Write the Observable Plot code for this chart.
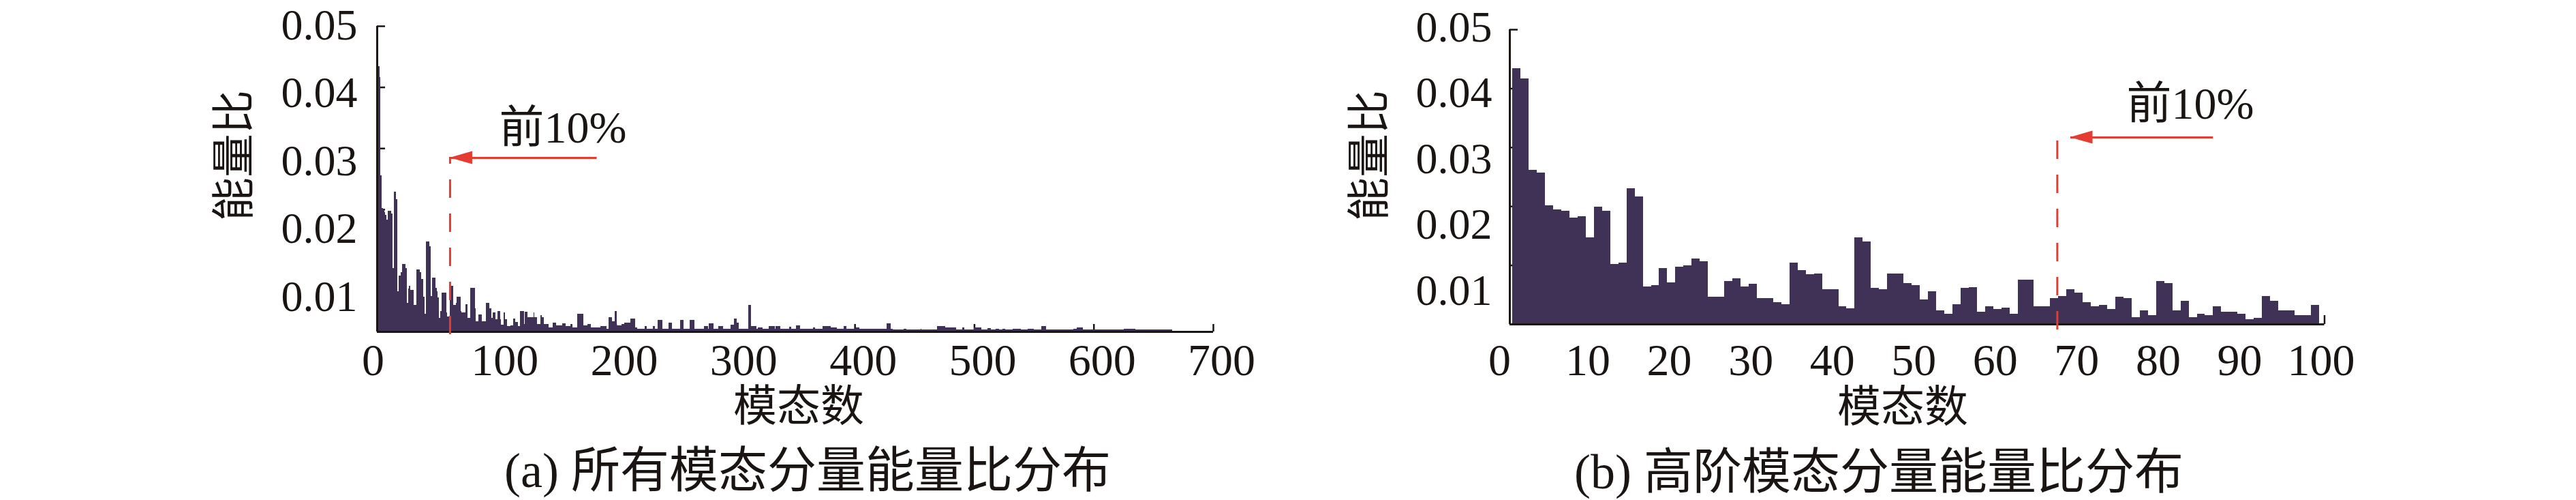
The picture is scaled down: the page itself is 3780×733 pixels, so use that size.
<!DOCTYPE html>
<html><head><meta charset="utf-8">
<script src="https://cdn.jsdelivr.net/npm/d3@7"></script>
<script src="https://cdn.jsdelivr.net/npm/@observablehq/plot@0.6"></script>
<style>
html,body{margin:0;padding:0;background:#fff;}
#root{position:relative;width:3780px;height:733px;overflow:hidden;background:#fff;}
.lbl{position:absolute;white-space:nowrap;font-family:"Liberation Serif","Noto Sans CJK SC",serif;color:#1a1512;line-height:1;transform:translate(-50%,-50%);}
</style></head><body><div id="root"></div>
<script>
// ---------------- data ----------------
// (a) energy ratio of all 666 modes
const energyA = [
.0434,.0434,.0416,.0256,.0202,.0200,.0195,.0191,.0183,.0197,
.0197,.0197,.0193,.0104,.0229,.0229,.0216,.0066,.0092,.0092,
.0097,.0110,.0110,.0110,.0104,.0047,.0070,.0075,.0068,.0068,
.0068,.0044,.0044,.0102,.0102,.0102,.0097,.0086,.0086,.0057,
.0029,.0147,.0147,.0147,.0140,.0058,.0088,.0088,.0088,.0071,
.0066,.0056,.0022,.0033,.0064,.0064,.0064,.0064,.0031,.0025,
.0025,.0075,.0075,.0075,.0044,.0044,.0047,.0057,.0057,.0057,
.0034,.0031,.0031,.0031,.0045,.0045,.0022,.0022,.0071,.0071,
.0071,.0071,.0038,.0017,.0017,.0028,.0028,.0028,.0017,.0017,
.0017,.0047,.0047,.0047,.0038,.0038,.0022,.0031,.0031,.0020,
.0020,.0034,.0034,.0020,.0011,.0011,.0031,.0020,.0020,.0009,
.0009,.0009,.0010,.0010,.0021,.0021,.0016,.0016,.0009,.0009,
.0033,.0033,.0033,.0012,.0032,.0032,.0023,.0023,.0023,.0023,
.0023,.0031,.0023,.0023,.0012,.0012,.0012,.0027,.0023,.0023,
.0012,.0012,.0012,.0012,.0007,.0007,.0007,.0014,.0014,.0014,
.0010,.0010,.0010,.0010,.0010,.0013,.0013,.0013,.0009,.0009,
.0009,.0009,.0012,.0012,.0007,.0007,.0007,.0007,.0029,.0029,
.0029,.0029,.0029,.0010,.0010,.0010,.0012,.0012,.0012,.0007,
.0007,.0007,.0007,.0007,.0007,.0007,.0007,.0009,.0009,.0009,
.0009,.0009,.0005,.0005,.0023,.0023,.0023,.0017,.0017,.0033,
.0033,.0010,.0010,.0010,.0010,.0012,.0012,.0014,.0014,.0014,
.0014,.0014,.0021,.0021,.0021,.0021,.0007,.0007,.0005,.0005,
.0005,.0005,.0005,.0005,.0009,.0009,.0004,.0004,.0004,.0004,
.0004,.0009,.0009,.0004,.0004,.0019,.0019,.0019,.0019,.0004,
.0004,.0004,.0004,.0004,.0015,.0015,.0015,.0004,.0004,.0004,
.0004,.0004,.0004,.0004,.0019,.0019,.0019,.0004,.0004,.0004,
.0004,.0004,.0019,.0019,.0019,.0019,.0004,.0004,.0004,.0004,
.0004,.0004,.0004,.0004,.0009,.0009,.0009,.0004,.0013,.0013,
.0013,.0013,.0004,.0004,.0004,.0004,.0009,.0009,.0009,.0009,
.0004,.0004,.0004,.0004,.0004,.0004,.0011,.0011,.0011,.0021,
.0021,.0015,.0015,.0004,.0004,.0004,.0004,.0004,.0004,.0004,
.0004,.0043,.0043,.0009,.0009,.0009,.0009,.0009,.0004,.0007,
.0007,.0007,.0007,.0004,.0004,.0004,.0004,.0004,.0009,.0009,
.0009,.0009,.0009,.0004,.0009,.0009,.0009,.0009,.0004,.0004,
.0004,.0004,.0004,.0004,.0004,.0008,.0008,.0004,.0004,.0004,
.0004,.0010,.0010,.0010,.0004,.0004,.0004,.0004,.0004,.0005,
.0005,.0005,.0005,.0004,.0004,.0007,.0007,.0004,.0004,.0004,
.0004,.0004,.0004,.0009,.0009,.0009,.0009,.0009,.0009,.0009,
.0007,.0007,.0007,.0007,.0007,.0004,.0004,.0004,.0004,.0004,
.0004,.0009,.0009,.0004,.0004,.0004,.0004,.0004,.0004,.0004,
.0004,.0007,.0007,.0007,.0004,.0004,.0004,.0004,.0005,.0005,
.0005,.0004,.0004,.0005,.0005,.0005,.0004,.0004,.0004,.0004,
.0004,.0004,.0005,.0005,.0005,.0005,.0004,.0013,.0013,.0013,
.0004,.0004,.0003,.0003,.0003,.0003,.0003,.0003,.0003,.0003,
.0003,.0005,.0005,.0003,.0003,.0003,.0003,.0003,.0003,.0003,
.0003,.0003,.0003,.0003,.0003,.0005,.0003,.0003,.0003,.0003,
.0003,.0003,.0003,.0003,.0003,.0003,.0003,.0003,.0003,.0009,
.0009,.0009,.0009,.0009,.0009,.0009,.0007,.0007,.0007,.0007,
.0007,.0007,.0007,.0007,.0007,.0003,.0003,.0003,.0003,.0003,
.0007,.0007,.0003,.0003,.0003,.0003,.0003,.0003,.0003,.0003,
.0007,.0007,.0007,.0007,.0007,.0007,.0003,.0003,.0003,.0003,
.0003,.0006,.0006,.0006,.0003,.0003,.0003,.0003,.0005,.0005,
.0005,.0003,.0003,.0003,.0005,.0005,.0003,.0003,.0003,.0003,
.0003,.0003,.0004,.0004,.0004,.0004,.0004,.0004,.0004,.0003,
.0003,.0003,.0003,.0003,.0003,.0005,.0005,.0005,.0005,.0005,
.0003,.0003,.0003,.0003,.0003,.0003,.0009,.0009,.0009,.0009,
.0003,.0003,.0003,.0003,.0003,.0003,.0003,.0003,.0003,.0003,
.0003,.0003,.0003,.0003,.0003,.0003,.0003,.0003,.0003,.0003,
.0003,.0003,.0003,.0005,.0005,.0005,.0007,.0007,.0007,.0007,
.0007,.0003,.0003,.0003,.0003,.0003,.0003,.0003,.0003,.0003,
.0003,.0003,.0003,.0003,.0003,.0003,.0003,.0003,.0003,.0003,
.0003,.0003,.0003,.0003,.0003,.0003,.0003,.0003,.0003,.0003,
.0003,.0003,.0003,.0003,.0003,.0005,.0005,.0005,.0005,.0005,
.0005,.0005,.0005,.0005,.0005,.0003,.0003,.0003,.0003,.0003,
.0003,.0003,.0003,.0003,.0003,.0003,.0003,.0003,.0003,.0003,
.0003,.0003,.0003,.0003,.0003,.0003,.0003,.0003,.0003,.0003,
.0003,.0003,.0003,.0003,.0003,.0003
];
// (b) energy ratio of the high-order modes (99 bars)
const energyB = [
.0434,.0417,.0262,.0257,.0201,.0195,.0192,.0181,.0183,.0147,
.0199,.0192,.0102,.0104,.0230,.0216,.0064,.0066,.0095,.0071,
.0097,.0099,.0111,.0106,.0046,.0046,.0073,.0077,.0064,.0068,
.0044,.0044,.0037,.0034,.0104,.0092,.0085,.0086,.0059,.0059,
.0030,.0027,.0147,.0140,.0061,.0059,.0086,.0086,.0070,.0066,
.0042,.0056,.0023,.0017,.0034,.0061,.0063,.0021,.0030,.0025,
.0028,.0017,.0075,.0075,.0030,.0030,.0044,.0048,.0059,.0053,
.0037,.0030,.0032,.0025,.0046,.0044,.0012,.0023,.0015,.0073,
.0070,.0023,.0039,.0012,.0017,.0015,.0030,.0021,.0021,.0017,
.0008,.0010,.0048,.0039,.0023,.0023,.0015,.0015,.0032
];
const yTicks = [0.01, 0.02, 0.03, 0.04, 0.05];
const xTicksA = [0, 100, 200, 300, 400, 500, 600, 700];
const xTicksB = [0, 10, 20, 30, 40, 50, 60, 70, 80, 90, 100];
// 10% cut-off markers and annotations (data units)
const cutA = [{x: 61, top: 0.02857, bottom: -0.00045}];
const cutB = [{x: 67.2, top: 0.03113, bottom: -0.00093}];
const arrowA = [{tail: 183.7, tip: 61, y: 0.02846}];
const arrowB = [{tail: 86.3, tip: 68.8, y: 0.0317}];
const noteA = [{x: 102.1, y: 0.03337, text: "前10%"}];
const noteB = [{x: 75.7, y: 0.03738, text: "前10%"}];
const yTitle = "能量比", xTitle = "模态数";
const captionA = "(a) 所有模态分量能量比分布";
const captionB = "(b) 高阶模态分量能量比分布";

// ---------------- drawing ----------------
const BAR = "#3f3256", INK = "#1a1512", RED = "#e53b30";
const FONT = "'Liberation Serif','Noto Sans CJK SC',serif";
const root = document.getElementById("root");
const fmt = d3.format(".2f");
const H = 600;
const baseStyle = {fontFamily: FONT, fontSize: "66px", color: INK, background: "transparent", overflow: "visible"};

function put(el, left, top) {
  el.style.position = "absolute"; el.style.left = left + "px"; el.style.top = top + "px";
  root.appendChild(el); return el;
}
function addHead(svg, arrows) {
  const sx = svg.scale("x"), sy = svg.scale("y");
  const g = d3.select(svg).append("g");
  for (const a of arrows) {
    const tx = sx.apply(a.tip), ty = sy.apply(a.y);
    g.append("polygon").attr("points", `${tx},${ty} ${tx + 33},${ty - 9.5} ${tx + 33},${ty + 9.5}`).attr("fill", RED);
  }
}

function panel(o) {
  const data = o.values.map((v, i) => ({k: i + 1, v}));
  const fw = o.width - o.mL - o.mR, fh = o.y0 - o.mT;
  const svg = Plot.plot({
    width: o.width, height: H,
    marginLeft: o.mL, marginRight: o.mR, marginTop: o.mT, marginBottom: H - o.y0,
    x: {domain: o.xDomain}, y: {domain: [0, 0.05], axis: null},
    style: baseStyle,
    marks: [
      Plot.tickY(yTicks, {y: d => d, insetRight: fw - 12, stroke: INK, strokeWidth: 2.5}),
      Plot.tickX(o.xTicks, {x: d => d, insetTop: fh - o.xTickLen, stroke: INK, strokeWidth: 2.5}),
      Plot.rectY(data, {x1: d => d.k - 1, x2: d => d.k, y: "v", dx: o.barShift, fill: BAR, shapeRendering: "crispEdges"}),
      Plot.ruleX([0], {stroke: INK, strokeWidth: 3}),
      Plot.ruleY([0], {stroke: INK, strokeWidth: 3}),
      Plot.axisX(o.xTicks.slice(0, 1), {tickSize: 0, tickPadding: o.xPad, dx: o.dx0, label: null}),
      Plot.axisX(o.xTicks.slice(1), {tickSize: 0, tickPadding: o.xPad, dx: o.dx, label: null}),
      Plot.ruleX(o.cut, {x: "x", y1: o.cutDown ? "top" : "bottom", y2: o.cutDown ? "bottom" : "top", stroke: RED, strokeWidth: 3, strokeDasharray: "27,23"}),
      Plot.link(o.arrow, {x1: "tail", x2: d => d.tip, y1: "y", y2: "y", stroke: RED, strokeWidth: 3}),
      Plot.text(o.note, {x: "x", y: "y", text: "text", textAnchor: "start", fill: INK})
    ]
  });
  addHead(svg, o.arrow);
  put(svg, o.left, 0);
  // tick labels of the y axis (set in the original slightly apart from the ticks)
  const lab = Plot.plot({
    width: o.width, height: H,
    marginLeft: o.mL, marginRight: o.mR, marginTop: o.labTop, marginBottom: H - o.labZero,
    y: {domain: [0, 0.05]},
    style: {...baseStyle, fontSize: "64px"},
    marks: [Plot.axisY(yTicks, {tickSize: 0, tickPadding: o.yPad, tickFormat: fmt, label: null})]
  });
  put(lab, o.left, 0);
}

panel({values: energyA, xDomain: [0, 700], xTicks: xTicksA, left: 0, width: 1900, mL: 553, mR: 120, mT: 38, y0: 486,
  xTickLen: 11, barShift: 0, xPad: 17, dx0: -6, dx: 12, cut: cutA, cutDown: false, arrow: arrowA, note: noteA,
  labTop: 37, labZero: 534, yPad: 29});
panel({values: energyB, xDomain: [0, 100], xTicks: xTicksB, left: 1900, width: 1880, mL: 315, mR: 369.5, mT: 43, y0: 475,
  xTickLen: 13, barShift: 4.3, xPad: 28, dx0: -15, dx: -5, cut: cutB, cutDown: true, arrow: arrowB, note: noteB,
  labTop: 40, labZero: 522, yPad: 26});

function label(text, x, y, size, rotate) {
  const d = document.createElement("div");
  d.className = "lbl"; d.textContent = text;
  d.style.left = x + "px"; d.style.top = y + "px"; d.style.fontSize = size + "px";
  if (rotate) d.style.transform = "translate(-50%,-50%) rotate(-90deg)";
  root.appendChild(d);
}
label(yTitle, 344, 228, 64, true);
label(yTitle, 2010, 228, 64, true);
label(xTitle, 1172, 596, 64);
label(xTitle, 2792, 597, 64);
label(captionA, 1185, 690, 72);
label(captionB, 2757, 692, 72);
</script></body></html>
